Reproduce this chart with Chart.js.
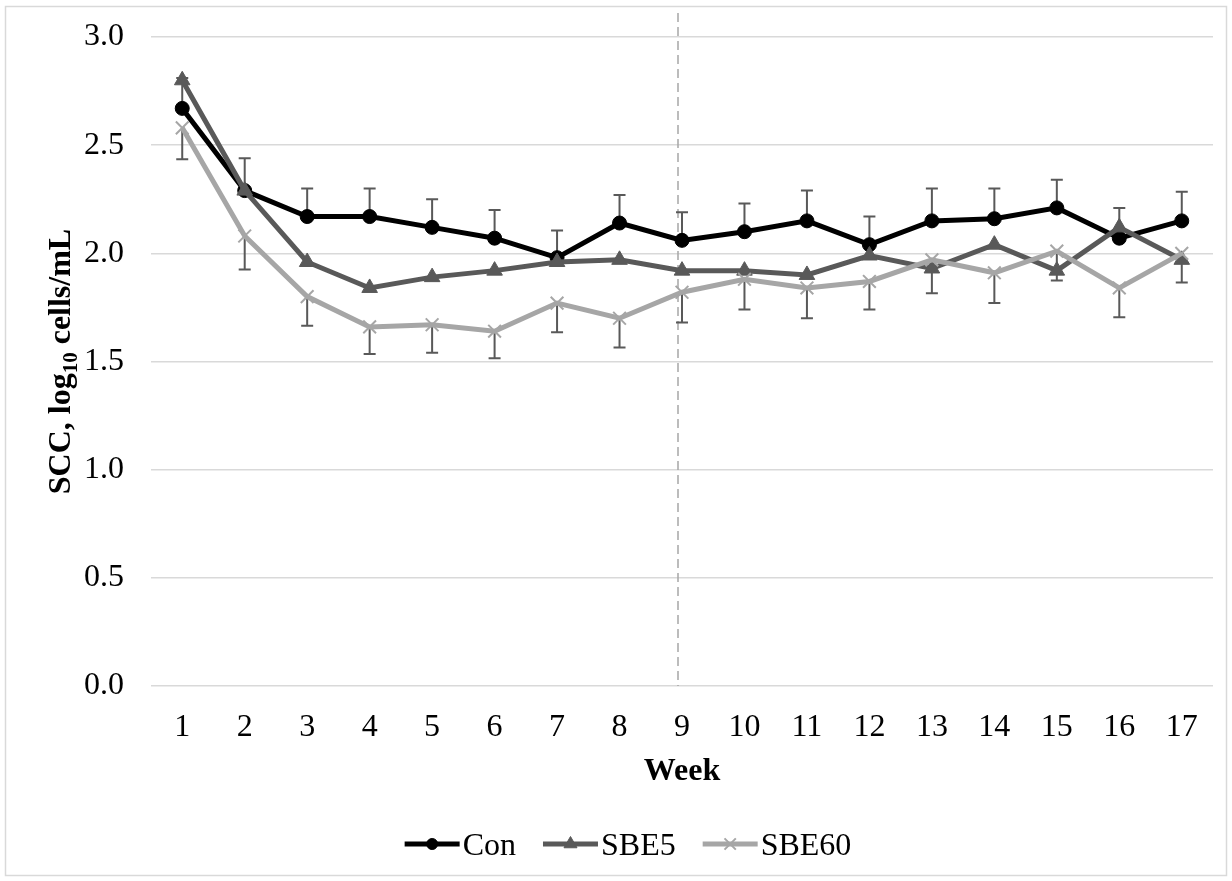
<!DOCTYPE html>
<html>
<head>
<meta charset="utf-8">
<script src="https://cdn.jsdelivr.net/npm/chart.js@4.4.1/dist/chart.umd.min.js"></script>
<style>
  html, body { margin: 0; padding: 0; background: #fff; }
  #wrap { width: 1232px; height: 881px; }
</style>
</head>
<body>
<div id="wrap"><canvas id="sccChart" width="1232" height="881"></canvas></div>
<script>
// Data
const weeks = ['1', '2', '3', '4', '5', '6', '7', '8', '9', '10', '11', '12', '13', '14', '15', '16', '17'];
const conValues   = [2.67, 2.29, 2.17, 2.17, 2.12, 2.07, 1.98, 2.14, 2.06, 2.10, 2.15, 2.04, 2.15, 2.16, 2.21, 2.07, 2.15];
const sbe5Values  = [2.80, 2.29, 1.96, 1.84, 1.89, 1.92, 1.96, 1.97, 1.92, 1.92, 1.90, 1.99, 1.93, 2.04, 1.92, 2.12, 1.97];
const sbe60Values = [2.58, 2.08, 1.80, 1.66, 1.67, 1.64, 1.77, 1.70, 1.82, 1.88, 1.84, 1.87, 1.97, 1.91, 2.01, 1.84, 2.00];
const conErrUp     = [0.14, 0.15, 0.13, 0.13, 0.13, 0.13, 0.125, 0.13, 0.13, 0.13, 0.14, 0.13, 0.15, 0.14, 0.13, 0.14, 0.135];
const sbe60ErrDown = [0.145, 0.155, 0.135, 0.125, 0.13, 0.125, 0.135, 0.135, 0.14, 0.14, 0.14, 0.13, 0.155, 0.14, 0.135, 0.135, 0.135];
const markerWeek = '9';

const serif = "'Liberation Serif', 'Times New Roman', serif";
const seriesStyles = [
    { label: 'Con',   color: '#000000', point: 'circle',   radius: 7, legendRadius: 5.5 },
    { label: 'SBE5',  color: '#595959', point: 'triangle', radius: 9, legendRadius: 7.5 },
    { label: 'SBE60', color: '#a6a6a6', point: 'crossRot', radius: 9, legendRadius: 8 }
];
const seriesValues = [conValues, sbe5Values, sbe60Values];

// background, divider, error bars, titles and legend
const decorPlugin = {
    id: 'decor',
    beforeDraw(chart) {
        const ctx = chart.ctx;
        ctx.save();
        ctx.fillStyle = '#fff';
        ctx.fillRect(0, 0, chart.width, chart.height);
        ctx.strokeStyle = '#d9d9d9';
        ctx.lineWidth = 1.5;
        ctx.strokeRect(5.5, 6.5, chart.width - 11, chart.height - 12);
        ctx.restore();
    },
    beforeDatasetsDraw(chart) {
        const { ctx, chartArea } = chart;
        const x = chart.scales.x, y = chart.scales.y;
        ctx.save();
        // dashed line at week 9
        const xd = x.getPixelForValue(weeks.indexOf(markerWeek)) - 4;
        ctx.strokeStyle = '#a6a6a6';
        ctx.lineWidth = 1.5;
        ctx.setLineDash([9, 5]);
        ctx.beginPath();
        ctx.moveTo(xd, 13);
        ctx.lineTo(xd, chartArea.bottom);
        ctx.stroke();
        ctx.setLineDash([]);

        // one-sided error bars
        ctx.strokeStyle = '#595959';
        ctx.lineWidth = 2;
        const bar = (i, v0, v1) => {
            const px = x.getPixelForValue(i);
            const p0 = y.getPixelForValue(v0);
            const p1 = y.getPixelForValue(v1);
            ctx.beginPath();
            ctx.moveTo(px, p0);
            ctx.lineTo(px, p1);
            ctx.moveTo(px - 6, p1);
            ctx.lineTo(px + 6, p1);
            ctx.stroke();
        };
        conValues.forEach((v, i) => bar(i, v, v + conErrUp[i]));
        sbe60Values.forEach((v, i) => bar(i, v, v - sbe60ErrDown[i]));
        ctx.restore();
    },
    afterDraw(chart) {
        const { ctx, chartArea } = chart;
        ctx.save();
        ctx.fillStyle = '#000';

        // y axis title with subscript
        const bold = 'bold 32px ' + serif;
        const boldSub = 'bold 21px ' + serif;
        const p1 = 'SCC, log', p2 = '10', p3 = ' cells/mL';
        ctx.font = bold;
        const w1 = ctx.measureText(p1).width, w3 = ctx.measureText(p3).width;
        ctx.font = boldSub;
        const w2 = ctx.measureText(p2).width;
        const total = w1 + w2 + w3;
        ctx.translate(70, (chartArea.top + chartArea.bottom) / 2);
        ctx.rotate(-Math.PI / 2);
        ctx.textBaseline = 'alphabetic';
        ctx.textAlign = 'left';
        let sx = -total / 2;
        ctx.font = bold;
        ctx.fillText(p1, sx, 0);
        sx += w1;
        ctx.font = boldSub;
        ctx.fillText(p2, sx, 7);
        sx += w2;
        ctx.font = bold;
        ctx.fillText(p3, sx, 0);
        ctx.setTransform(1, 0, 0, 1, 0, 0);

        // x axis title
        ctx.font = bold;
        ctx.textAlign = 'center';
        ctx.fillText('Week', (chartArea.left + chartArea.right) / 2, 780);

        // legend: line + marker + label
        ctx.font = '32px ' + serif;
        ctx.textAlign = 'left';
        const lineLen = 55, gap = 27;
        const widths = seriesStyles.map(s => lineLen + 3 + ctx.measureText(s.label).width);
        const full = widths.reduce((a, b) => a + b, 0) + gap * (widths.length - 1);
        let lx = 628 - full / 2;
        const ly = 844;
        seriesStyles.forEach((s, i) => {
            ctx.strokeStyle = s.color;
            ctx.fillStyle = s.color;
            ctx.lineWidth = 5;
            ctx.beginPath();
            ctx.moveTo(lx, ly);
            ctx.lineTo(lx + lineLen, ly);
            ctx.stroke();
            ctx.lineWidth = s.point === 'crossRot' ? 2 : 1;
            Chart.helpers.drawPoint(ctx, {
                pointStyle: s.point,
                radius: s.legendRadius,
                borderWidth: ctx.lineWidth,
                rotation: 0
            }, lx + lineLen / 2, ly);
            ctx.fillStyle = '#000';
            ctx.fillText(s.label, lx + lineLen + 3, 855);
            lx += widths[i] + gap;
        });
        ctx.restore();
    }
};

const datasets = seriesStyles.map((s, i) => ({
    label: s.label,
    data: seriesValues[i],
    borderColor: s.color,
    backgroundColor: s.color,
    borderWidth: 5,
    tension: 0,
    pointStyle: s.point,
    pointRadius: s.radius,
    pointBackgroundColor: s.color,
    pointBorderColor: s.color,
    pointBorderWidth: s.point === 'crossRot' ? 2 : 1,
    pointHoverRadius: s.radius,
    order: seriesStyles.length - i
}));

new Chart(document.getElementById('sccChart').getContext('2d'), {
    type: 'line',
    data: { labels: weeks, datasets: datasets },
    options: {
        responsive: false,
        animation: false,
        devicePixelRatio: 1,
        layout: { padding: { left: 0, right: 19, top: 37, bottom: 135 } },
        plugins: { legend: { display: false }, tooltip: { enabled: false } },
        scales: {
            x: {
                type: 'category',
                offset: true,
                grid: { display: false, drawTicks: false },
                border: { display: false },
                ticks: { color: '#000', font: { family: serif, size: 32 }, padding: 22, maxRotation: 0, autoSkip: false },
                afterFit(scale) {
                    scale.height = 60;
                    scale.paddingLeft = 0;
                    scale.paddingRight = 0;
                }
            },
            y: {
                min: 0,
                max: 3,
                grid: { color: '#d9d9d9', lineWidth: 1.5, drawTicks: false },
                border: { display: false },
                ticks: {
                    stepSize: 0.5,
                    color: '#000',
                    font: { family: serif, size: 32 },
                    padding: 27,
                    callback: v => v.toFixed(1)
                },
                afterFit(scale) {
                    scale.width = 151;
                    scale.paddingTop = 0;
                    scale.paddingBottom = 0;
                }
            }
        }
    },
    plugins: [decorPlugin]
});
</script>
</body>
</html>
